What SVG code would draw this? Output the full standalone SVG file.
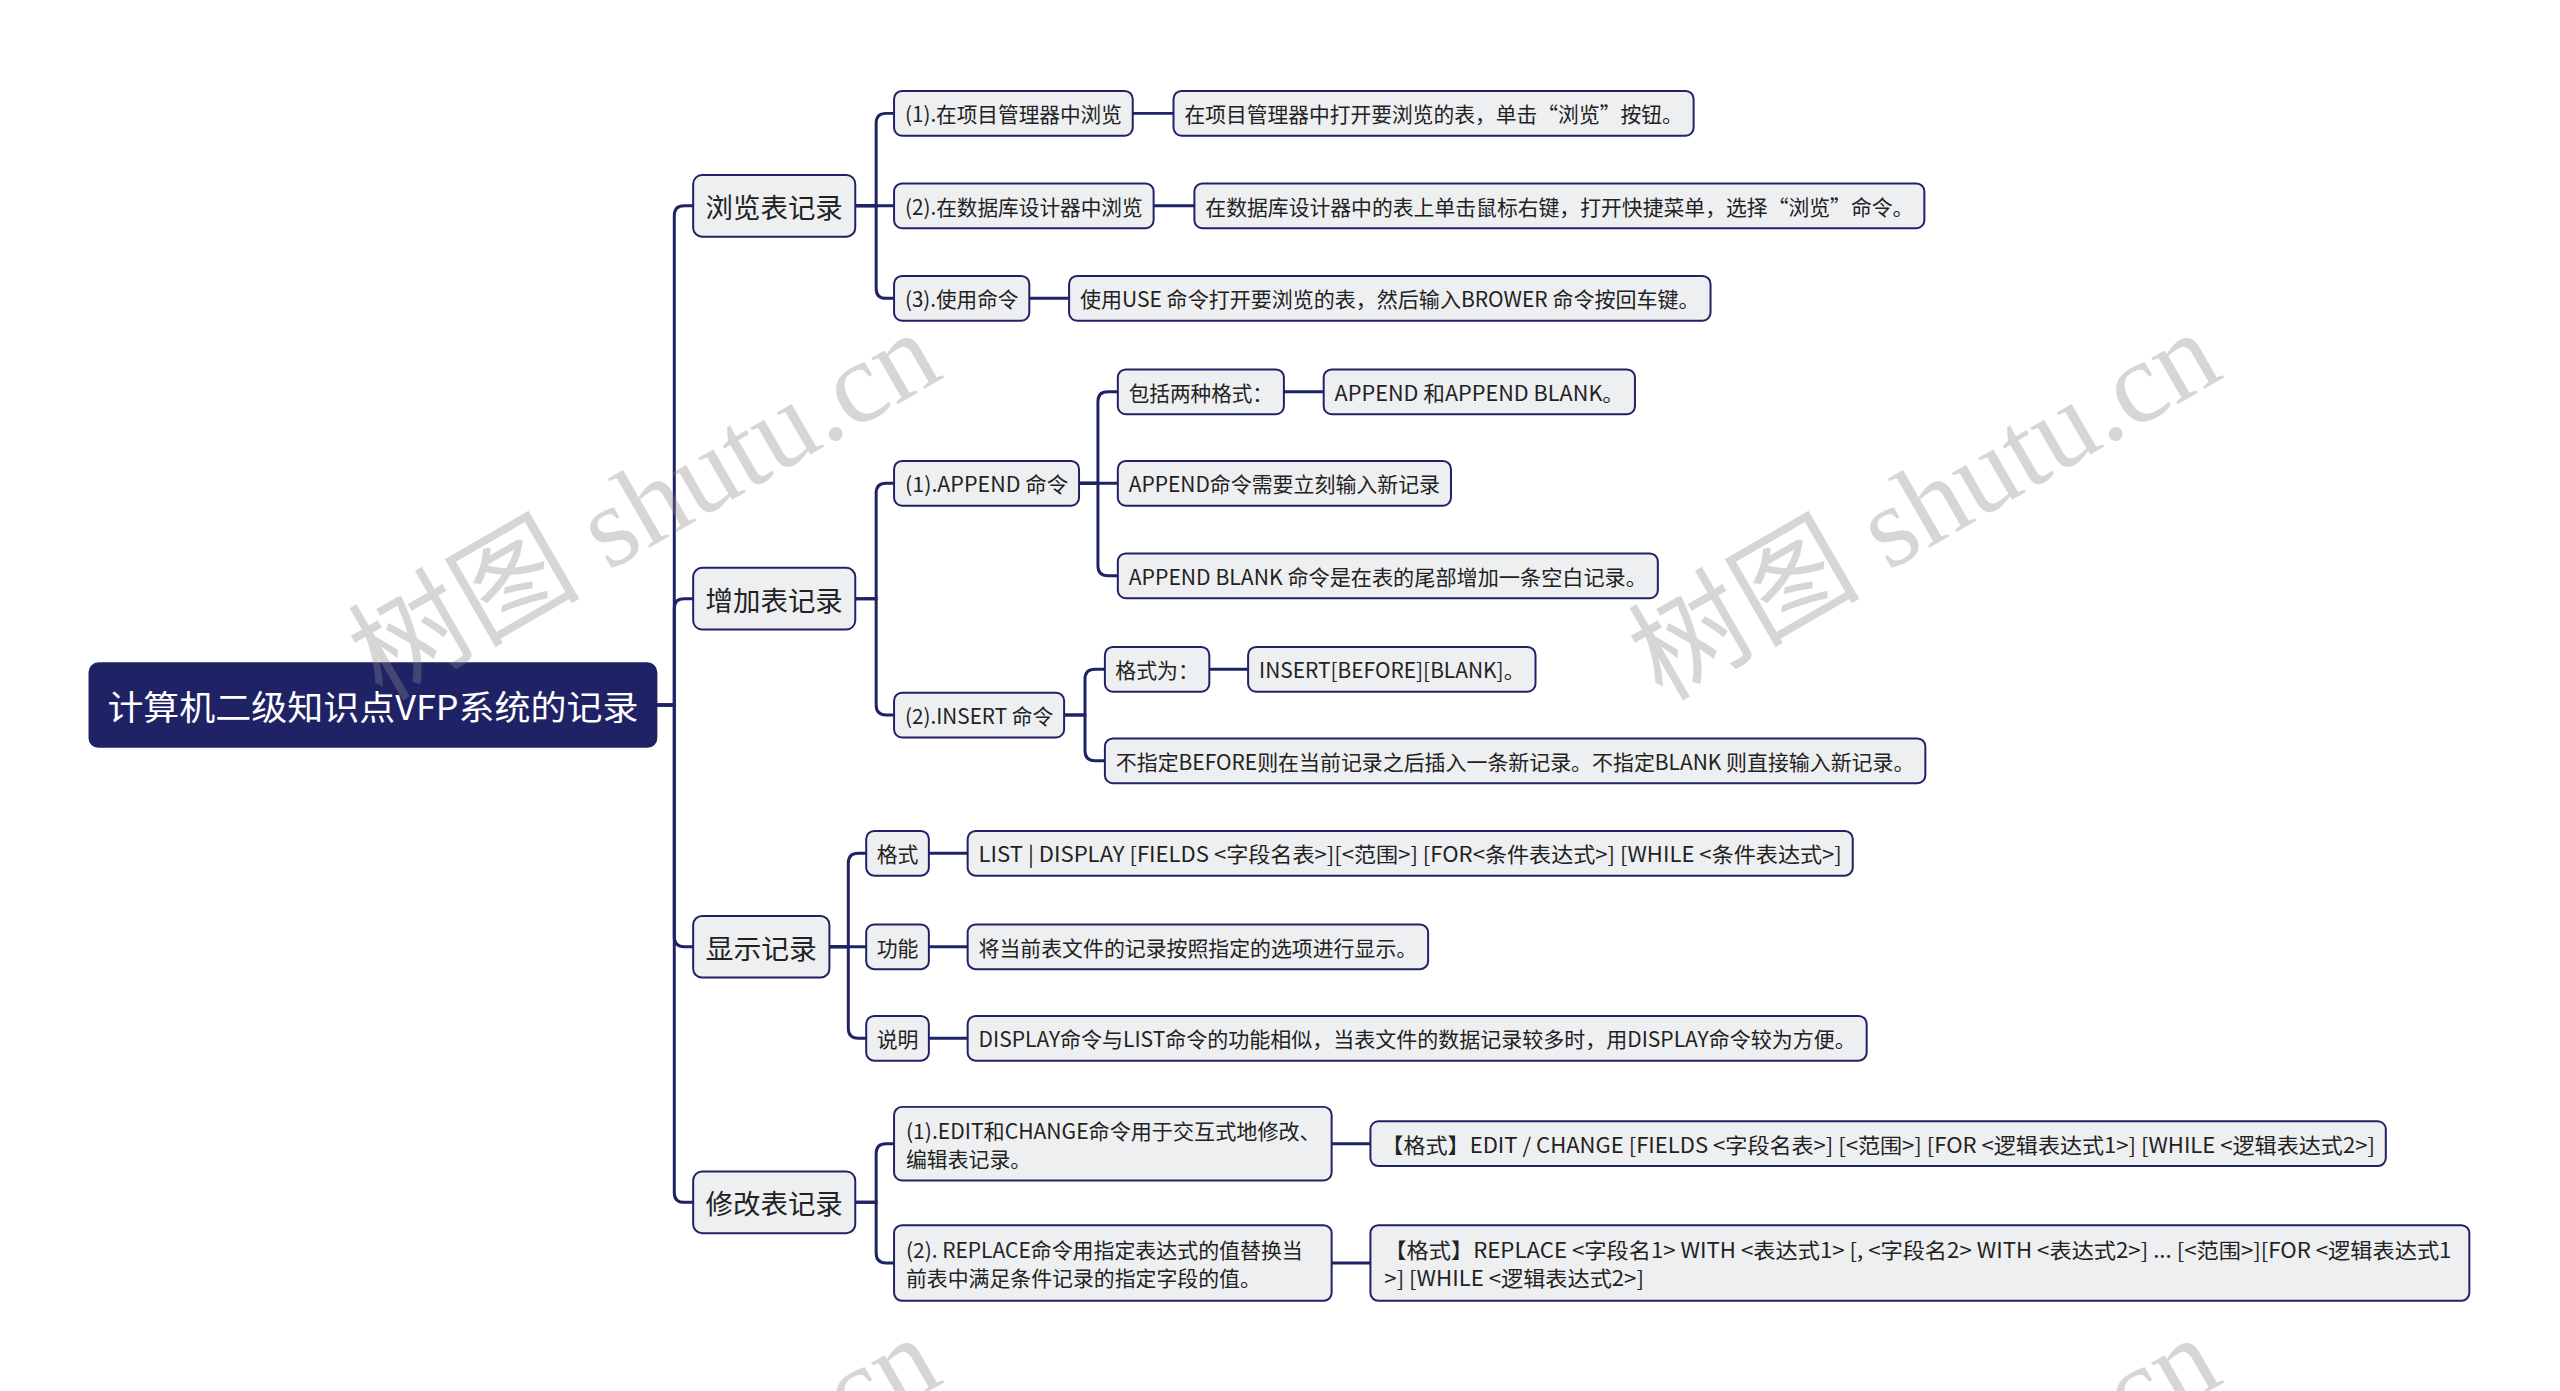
<svg xmlns="http://www.w3.org/2000/svg" width="2560" height="1391" viewBox="0 0 2560 1391">
<style>
.bg{fill:#ffffff}
.box{fill:#eeeff1;stroke:#1f2366;stroke-width:2}
.root{fill:#1f2366;stroke:#1f2366;stroke-width:2}
.t{font-family:"Noto Sans CJK SC","Noto Sans",sans-serif;fill:#222222;dominant-baseline:central}
.t21{font-size:21px}
.t28{font-size:28px}
.tr{font-size:34px;fill:#ffffff}
.c{text-anchor:middle}
.ln{fill:none;stroke:#1f2366;stroke-width:3;stroke-linecap:round}
.wm{font-family:"Liberation Serif","Noto Sans CJK SC",serif;font-size:116px;fill:#8a8a8a;opacity:0.34}
</style>
<rect class="bg" x="0" y="0" width="2560" height="1391"/>
<g id="diagram" transform="scale(0.9945)">
<g id="connectors">
<path class="ln" d="M660 709 H678 V217 Q678 207 688 207 H697"/>
<path class="ln" d="M660 709 H678 V612 Q678 602 688 602 H697"/>
<path class="ln" d="M660 709 H678 V942 Q678 952 688 952 H697"/>
<path class="ln" d="M660 709 H678 V1199 Q678 1209 688 1209 H697"/>
<path class="ln" d="M860 207 H881 V124 Q881 114 891 114 H899"/>
<path class="ln" d="M860 207 H899"/>
<path class="ln" d="M860 207 H881 V290 Q881 300 891 300 H899"/>
<path class="ln" d="M1139 114 H1180"/>
<path class="ln" d="M1160 207 H1201"/>
<path class="ln" d="M1035 300 H1075"/>
<path class="ln" d="M860 602 H881 V496 Q881 486 891 486 H899"/>
<path class="ln" d="M860 602 H881 V709 Q881 719 891 719 H899"/>
<path class="ln" d="M1085 486 H1104 V404 Q1104 394 1114 394 H1124"/>
<path class="ln" d="M1085 486 H1124"/>
<path class="ln" d="M1085 486 H1104 V569 Q1104 579 1114 579 H1124"/>
<path class="ln" d="M1291 394 H1331"/>
<path class="ln" d="M1070 719 H1091 V683 Q1091 673 1101 673 H1111"/>
<path class="ln" d="M1070 719 H1091 V755 Q1091 765 1101 765 H1111"/>
<path class="ln" d="M1216 673 H1255"/>
<path class="ln" d="M834 952 H853 V868 Q853 858 863 858 H871"/>
<path class="ln" d="M834 952 H871"/>
<path class="ln" d="M834 952 H853 V1034 Q853 1044 863 1044 H871"/>
<path class="ln" d="M934 858 H973"/>
<path class="ln" d="M934 952 H973"/>
<path class="ln" d="M934 1044 H973"/>
<path class="ln" d="M860 1209 H881 V1160 Q881 1150 891 1150 H899"/>
<path class="ln" d="M860 1209 H881 V1260 Q881 1270 891 1270 H899"/>
<path class="ln" d="M1339 1150 H1378"/>
<path class="ln" d="M1339 1270 H1378"/>
</g>
<g id="root"><rect class="root" x="90" y="667" width="570" height="84" rx="9"/><text class="t tr c" x="375" y="709" textLength="534" lengthAdjust="spacingAndGlyphs">计算机二级知识点VFP系统的记录</text></g>
<g id="n-browse"><rect class="box" x="697" y="176" width="163" height="62" rx="9"/><text class="t t28 c" x="778.5" y="207" textLength="138" lengthAdjust="spacingAndGlyphs">浏览表记录</text></g>
<g id="n-add"><rect class="box" x="697" y="571" width="163" height="62" rx="9"/><text class="t t28 c" x="778.5" y="602" textLength="138" lengthAdjust="spacingAndGlyphs">增加表记录</text></g>
<g id="n-show"><rect class="box" x="697" y="921" width="137" height="62" rx="9"/><text class="t t28 c" x="765.5" y="952" textLength="112" lengthAdjust="spacingAndGlyphs">显示记录</text></g>
<g id="n-edit"><rect class="box" x="697" y="1178" width="163" height="62" rx="9"/><text class="t t28 c" x="778.5" y="1209" textLength="138" lengthAdjust="spacingAndGlyphs">修改表记录</text></g>
<g id="b1"><rect class="box" x="899" y="91.5" width="240" height="45" rx="8"/><text class="t t21 c" x="1019" y="114" textLength="218" lengthAdjust="spacingAndGlyphs">(1).在项目管理器中浏览</text></g>
<g id="b2"><rect class="box" x="899" y="184.5" width="261" height="45" rx="8"/><text class="t t21 c" x="1029.5" y="207" textLength="239" lengthAdjust="spacingAndGlyphs">(2).在数据库设计器中浏览</text></g>
<g id="b3"><rect class="box" x="899" y="277.5" width="136" height="45" rx="8"/><text class="t t21 c" x="967" y="300" textLength="114" lengthAdjust="spacingAndGlyphs">(3).使用命令</text></g>
<g id="c1"><rect class="box" x="1180" y="91.5" width="523" height="45" rx="8"/><text class="t t21 c" x="1441.5" y="114" textLength="501" lengthAdjust="spacingAndGlyphs">在项目管理器中打开要浏览的表，单击“浏览”按钮。</text></g>
<g id="c2"><rect class="box" x="1201" y="184.5" width="734" height="45" rx="8"/><text class="t t21 c" x="1568" y="207" textLength="712" lengthAdjust="spacingAndGlyphs">在数据库设计器中的表上单击鼠标右键，打开快捷菜单，选择“浏览”命令。</text></g>
<g id="c3"><rect class="box" x="1075" y="277.5" width="645" height="45" rx="8"/><text class="t t21 c" x="1397.5" y="300" textLength="623" lengthAdjust="spacingAndGlyphs">使用USE 命令打开要浏览的表，然后输入BROWER 命令按回车键。</text></g>
<g id="a1"><rect class="box" x="899" y="463.5" width="186" height="45" rx="8"/><text class="t t21 c" x="992" y="486" textLength="164" lengthAdjust="spacingAndGlyphs">(1).APPEND 命令</text></g>
<g id="a11"><rect class="box" x="1124" y="371.5" width="167" height="45" rx="8"/><text class="t t21 c" x="1207.5" y="394" textLength="145" lengthAdjust="spacingAndGlyphs">包括两种格式：</text></g>
<g id="a111"><rect class="box" x="1331" y="371.5" width="313" height="45" rx="8"/><text class="t t21 c" x="1487.5" y="394" textLength="291" lengthAdjust="spacingAndGlyphs">APPEND 和APPEND BLANK。</text></g>
<g id="a12"><rect class="box" x="1124" y="463.5" width="335" height="45" rx="8"/><text class="t t21 c" x="1291.5" y="486" textLength="313" lengthAdjust="spacingAndGlyphs">APPEND命令需要立刻输入新记录</text></g>
<g id="a13"><rect class="box" x="1124" y="556.5" width="543" height="45" rx="8"/><text class="t t21 c" x="1395.5" y="579" textLength="521" lengthAdjust="spacingAndGlyphs">APPEND BLANK 命令是在表的尾部增加一条空白记录。</text></g>
<g id="a2"><rect class="box" x="899" y="696.5" width="171" height="45" rx="8"/><text class="t t21 c" x="984.5" y="719" textLength="149" lengthAdjust="spacingAndGlyphs">(2).INSERT 命令</text></g>
<g id="a21"><rect class="box" x="1111" y="650.5" width="105" height="45" rx="8"/><text class="t t21 c" x="1163.5" y="673" textLength="84" lengthAdjust="spacingAndGlyphs">格式为：</text></g>
<g id="a211"><rect class="box" x="1255" y="650.5" width="289" height="45" rx="8"/><text class="t t21 c" x="1399.5" y="673" textLength="267" lengthAdjust="spacingAndGlyphs">INSERT[BEFORE][BLANK]。</text></g>
<g id="a22"><rect class="box" x="1111" y="742.5" width="825" height="45" rx="8"/><text class="t t21 c" x="1523.5" y="765" textLength="803" lengthAdjust="spacingAndGlyphs">不指定BEFORE则在当前记录之后插入一条新记录。不指定BLANK 则直接输入新记录。</text></g>
<g id="s1"><rect class="box" x="871" y="835.5" width="63" height="45" rx="8"/><text class="t t21 c" x="902.5" y="858">格式</text></g>
<g id="s11"><rect class="box" x="973" y="835.5" width="890" height="45" rx="8"/><text class="t t21 c" x="1418" y="858" textLength="868" lengthAdjust="spacingAndGlyphs">LIST | DISPLAY [FIELDS &lt;字段名表&gt;][&lt;范围&gt;] [FOR&lt;条件表达式&gt;] [WHILE &lt;条件表达式&gt;]</text></g>
<g id="s2"><rect class="box" x="871" y="929.5" width="63" height="45" rx="8"/><text class="t t21 c" x="902.5" y="952">功能</text></g>
<g id="s21"><rect class="box" x="973" y="929.5" width="463" height="45" rx="8"/><text class="t t21 c" x="1204.5" y="952" textLength="441" lengthAdjust="spacingAndGlyphs">将当前表文件的记录按照指定的选项进行显示。</text></g>
<g id="s3"><rect class="box" x="871" y="1021.5" width="63" height="45" rx="8"/><text class="t t21 c" x="902.5" y="1044">说明</text></g>
<g id="s31"><rect class="box" x="973" y="1021.5" width="904" height="45" rx="8"/><text class="t t21 c" x="1425" y="1044" textLength="882" lengthAdjust="spacingAndGlyphs">DISPLAY命令与LIST命令的功能相似，当表文件的数据记录较多时，用DISPLAY命令较为方便。</text></g>
<g id="e1"><rect class="box" x="899" y="1113" width="440" height="74" rx="8"/><text class="t t21" x="911" y="1136" textLength="417" lengthAdjust="spacingAndGlyphs">(1).EDIT和CHANGE命令用于交互式地修改、</text><text class="t t21" x="911" y="1164">编辑表记录。</text></g>
<g id="e11"><rect class="box" x="1378" y="1127.5" width="1021" height="45" rx="8"/><text class="t t21 c" x="1888.5" y="1150" textLength="999" lengthAdjust="spacingAndGlyphs">【格式】EDIT / CHANGE [FIELDS &lt;字段名表&gt;] [&lt;范围&gt;] [FOR &lt;逻辑表达式1&gt;] [WHILE &lt;逻辑表达式2&gt;]</text></g>
<g id="e2"><rect class="box" x="899" y="1232" width="440" height="76" rx="8"/><text class="t t21" x="911" y="1256" textLength="399" lengthAdjust="spacingAndGlyphs">(2). REPLACE命令用指定表达式的值替换当</text><text class="t t21" x="911" y="1284">前表中满足条件记录的指定字段的值。</text></g>
<g id="e21"><rect class="box" x="1378" y="1232" width="1105" height="76" rx="8"/><text class="t t21" x="1392" y="1256" textLength="1073" lengthAdjust="spacingAndGlyphs">【格式】REPLACE &lt;字段名1&gt; WITH &lt;表达式1&gt; [, &lt;字段名2&gt; WITH &lt;表达式2&gt;] ... [&lt;范围&gt;][FOR &lt;逻辑表达式1</text><text class="t t21" x="1392" y="1284" textLength="261" lengthAdjust="spacingAndGlyphs">&gt;] [WHILE &lt;逻辑表达式2&gt;]</text></g>
</g>
<g id="watermarks">
<text class="wm" transform="translate(382 702) rotate(-30)">树图 shutu.cn</text>
<text class="wm" transform="translate(1662 702) rotate(-30)">树图 shutu.cn</text>
<text class="wm" transform="translate(382 1707) rotate(-30)">树图 shutu.cn</text>
<text class="wm" transform="translate(1662 1707) rotate(-30)">树图 shutu.cn</text>
</g>
</svg>
